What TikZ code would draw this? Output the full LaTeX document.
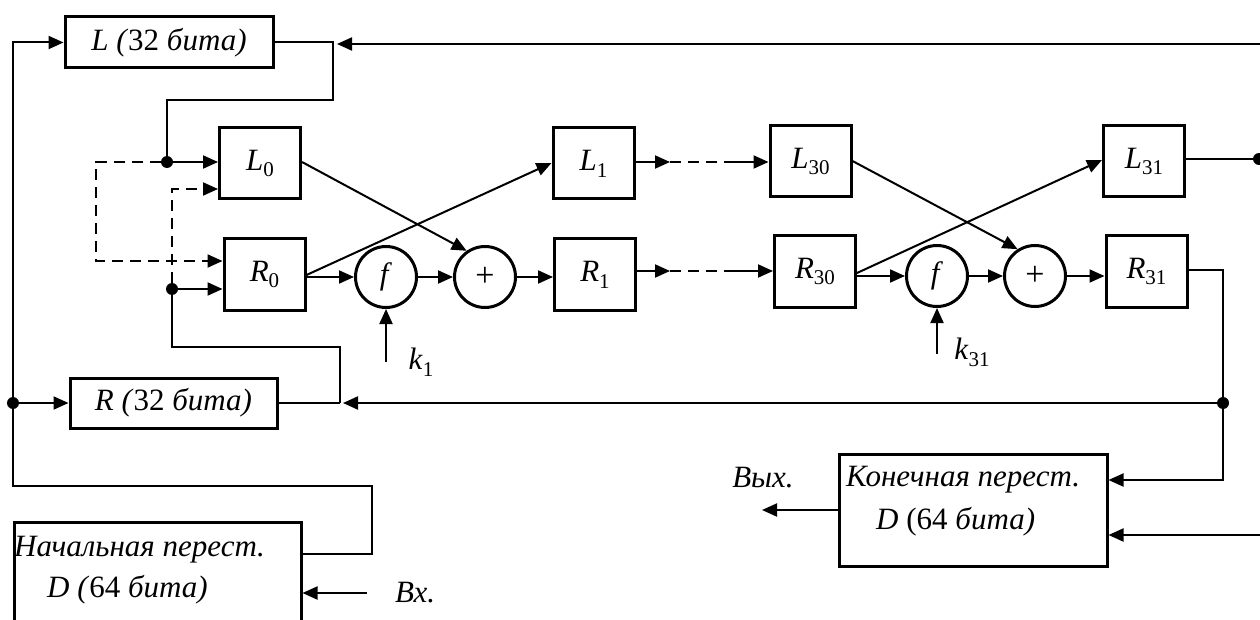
\documentclass[tikz,border=0pt]{standalone}
\usepackage{fontspec}
\setmainfont{Liberation Serif}
\usetikzlibrary{arrows.meta,calc}
\newcommand{\lsub}[2]{\textit{#1}\raisebox{-0.22em}{\fontsize{21}{21}\selectfont #2}}
\begin{document}
\begin{tikzpicture}[x=1pt,y=-1pt,
  font=\fontsize{31}{36}\selectfont,
  box/.style={draw,line width=3pt,inner sep=0pt,minimum width=81pt,minimum height=71pt},
  circ/.style={draw,circle,line width=3pt,inner sep=0pt,minimum size=61pt},
  conn/.style={line width=2pt},
  arr/.style={conn,-{Triangle[length=15pt,width=13pt]}},
  dsh/.style={conn,dash pattern=on 11pt off 7pt},
  darr/.style={arr,dash pattern=on 11pt off 7pt},
  dot/.style={circle,fill,inner sep=0pt,minimum size=12pt},
  lbl/.style={inner sep=0pt},
  plus/.style={font=\fontsize{34}{34}\selectfont}]
\useasboundingbox (0,0) rectangle (1260,620);
\clip (0,0) rectangle (1260,620);
% boxes
\node[box,minimum width=208pt,minimum height=51pt] (Lb) at (169,42.5) {\textit{L (}32\textit{ бита)}};
\node[box,minimum width=207pt,minimum height=50pt] (Rb) at (173.5,403) {\textit{R (}32\textit{ бита)}};
\node[box] (L0) at (260,163.5) {\lsub{L}{0}};
\node[box] (R0) at (264.5,274.5) {\lsub{R}{0}};
\node[circ] (f1) at (386,277) {\textit{f}};
\node[circ,plus] (p1) at (485,277) {+};
\node[box] (L1) at (593.5,163.5) {\lsub{L}{1}};
\node[box] (R1) at (595,274.5) {\lsub{R}{1}};
\node[box] (L30) at (810.5,161.5) {\lsub{L}{30}};
\node[box] (R30) at (815,271.5) {\lsub{R}{30}};
\node[circ] (f2) at (937,276) {\textit{f}};
\node[circ,plus] (p2) at (1035,276) {+};
\node[box] (L31) at (1144,161.5) {\lsub{L}{31}};
\node[box] (R31) at (1146.5,271.5) {\lsub{R}{31}};
\node[box,minimum width=268pt,minimum height=112pt] (Kon) at (973,510) {};
\node[lbl,anchor=west] (Kt1) at (846,480) {\textit{Конечная перест.}};
\node[lbl,anchor=west] (Kt2) at (876,522) {\textit{D }(64\textit{ бита)}};
\node[box,minimum width=287pt,minimum height=140pt] (Nach) at (157.5,592) {};
\node[lbl,anchor=west] (Nt1) at (14,550) {\textit{Начальная перест.}};
\node[lbl,anchor=west] (Nt2) at (47,590) {\textit{D (}64\textit{ бита)}};
% labels
\node[lbl] (k1) at (421,362) {\lsub{k}{1}};
\node[lbl] (k31) at (972,352) {\lsub{k}{31}};
\node[lbl] (out) at (763,478) {\textit{Вых.}};
\node[lbl] (in) at (415,593) {\textit{Вх.}};
% junctions
\node[dot] (d1) at (13,403) {};
\node[dot] (d2) at (167,162) {};
\node[dot] (d3) at (172,289) {};
\node[dot] (d4) at (1223,403) {};
\node[dot] (d5) at (1259,159) {};
\coordinate (topin) at (1262,44);
\coordinate (rin) at (1262,535);
\coordinate (k1s) at (386,362);
\coordinate (k31s) at (937,354);
\coordinate (outend) at (762,510);
\coordinate (inend) at (367,593);
\coordinate (busend) at (343,403);
% left loop
\draw[arr] (Nach.east |- 0,554) -- (372,554) -- (372,486) -- (13,486) -- (13,42.5) -- (Lb.west);
\draw[arr] (d1) -- (Rb.west);
% top bus
\draw[arr] (topin) -- (337,44);
\draw[conn] (Lb.east) -- (333,42.5) -- (333,100) -- (167,100) -- (d2);
\draw[arr] (d2) -- (L0.west |- d2);
\draw[darr] (d2) -- (96,162) -- (96,261) -- (R0.west |- 0,261);
\draw[darr] (d3) -- (172,189) -- (L0.west |- 0,189);
\draw[arr] (d3) -- (R0.west |- d3);
\draw[conn] (d3) -- (172,347) -- (340,347) -- (340,403);
\draw[conn] (Rb.east) -- (340,403);
\draw[arr] (d4) -- (busend);
% round 1
\draw[arr] (L0.east |- 0,162) -- (p1.125);
\draw[arr] (R0.east |- 0,275) -- (L1.west |- 0,163);
\draw[arr] (R0.east |- 0,277) -- (f1.west);
\draw[arr] (f1.east) -- (p1.west);
\draw[arr] (p1.east) -- (R1.west |- 0,277);
\draw[arr] (k1s) -- (f1.south);
% dotted chain
\draw[arr] (L1.east |- 0,162) -- (670,162);
\draw[dsh] (670,162) -- (728,162);
\draw[arr] (728,162) -- (L30.west |- 0,162);
\draw[arr] (R1.east |- 0,271) -- (670,271);
\draw[dsh] (670,271) -- (728,271);
\draw[arr] (728,271) -- (R30.west |- 0,271);
% round 31
\draw[arr] (L30.east |- 0,161) -- (p2.123);
\draw[arr] (R30.east |- 0,273) -- (L31.west |- 0,160);
\draw[arr] (R30.east |- 0,276) -- (f2.west);
\draw[arr] (f2.east) -- (p2.west);
\draw[arr] (p2.east) -- (R31.west |- 0,276);
\draw[arr] (k31s) -- (f2.south);
\draw[conn] (L31.east |- 0,159) -- (d5);
% output
\draw[conn] (R31.east |- 0,270) -- (1223,270) -- (d4);
\draw[arr] (d4) -- (1223,480) -- (Kon.east |- 0,480);
\draw[arr] (rin) -- (Kon.east |- 0,535);
\draw[arr] (Kon.west) -- (outend);
\draw[arr] (inend) -- (Nach.east |- 0,593);
\end{tikzpicture}
\end{document}
